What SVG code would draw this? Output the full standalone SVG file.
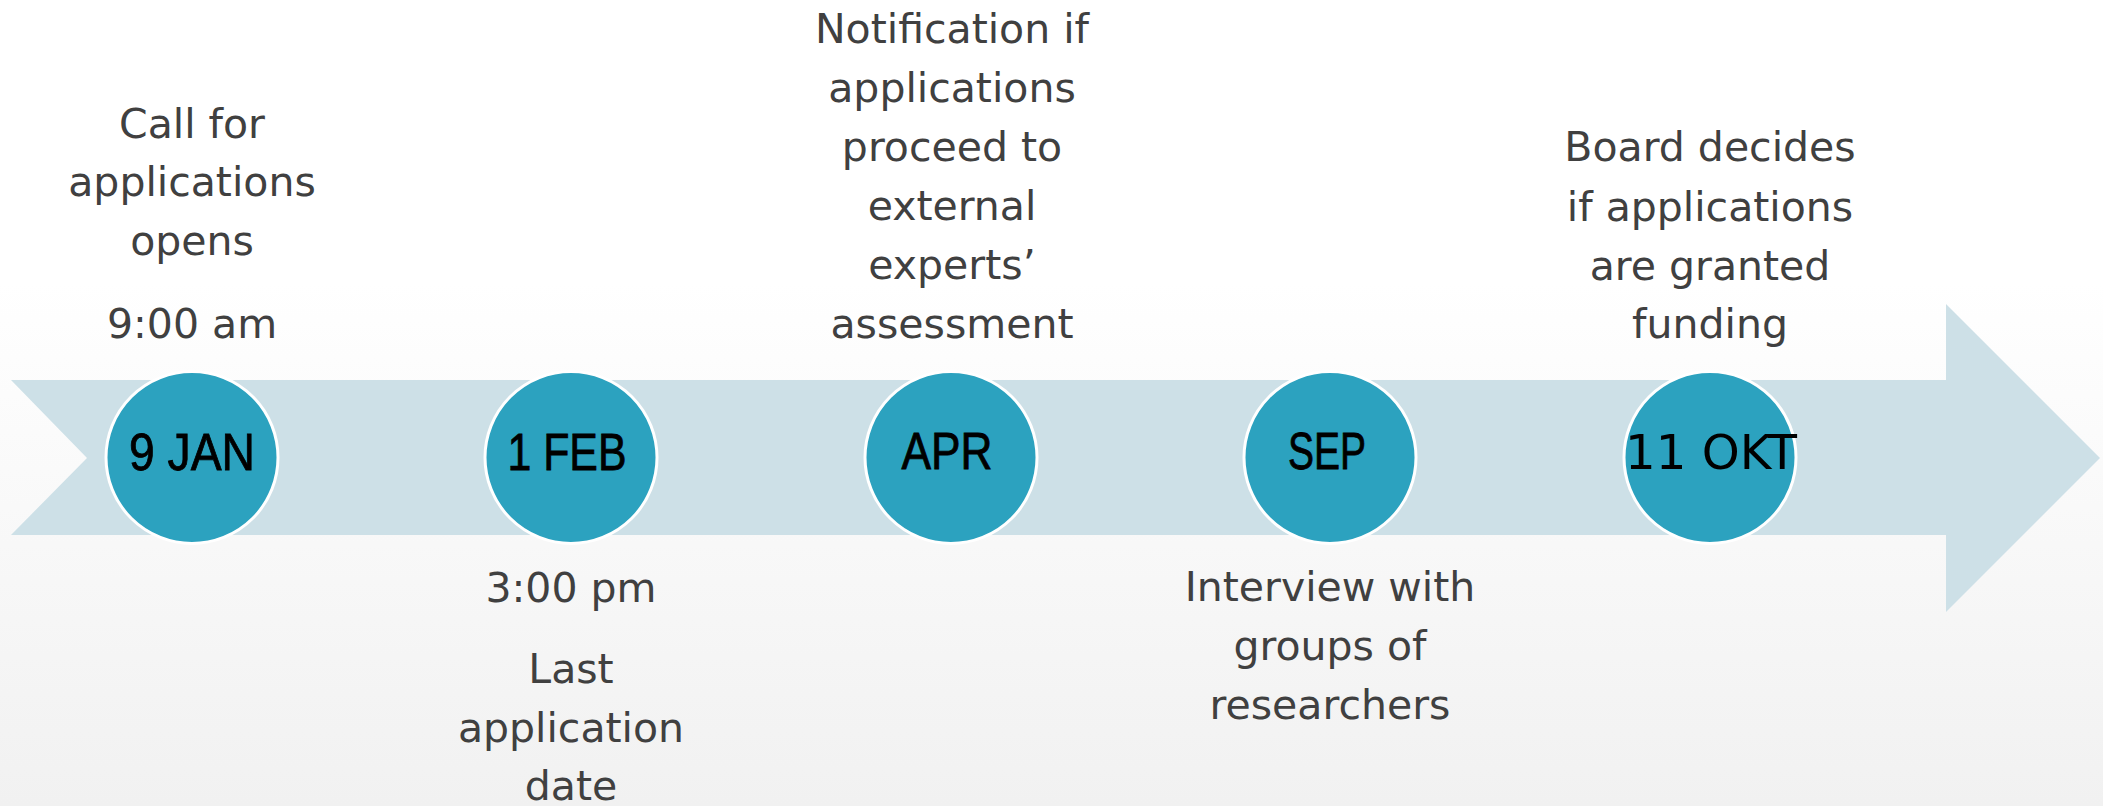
<svg xmlns="http://www.w3.org/2000/svg" width="2103" height="806" viewBox="0 0 2103 806">
  <defs>
    <linearGradient id="bg" x1="0" y1="0" x2="0" y2="1">
      <stop offset="0" stop-color="#FFFFFF"/>
      <stop offset="0.35" stop-color="#FFFFFF"/>
      <stop offset="1" stop-color="#F1F1F1"/>
    </linearGradient>
  </defs>
  <style>
    .lbl { font-family: "DejaVu Sans", "Liberation Sans", sans-serif; font-size: 41px; fill: #404040; text-anchor: middle; }
    .dot { fill: #2CA2BF; stroke: #FFFFFF; stroke-width: 3; }
    .dt { font-family: "Liberation Sans", Arial, sans-serif; font-size: 51px; fill: #000000; stroke: #000000; stroke-width: 0.8; text-anchor: middle; }
    .dt2 { font-family: "DejaVu Sans", sans-serif; font-size: 48px; fill: #000000; text-anchor: middle; }
  </style>
  <rect x="0" y="0" width="2103" height="806" fill="url(#bg)"/>
  <g id="connectors">
    <path d="M11,380 L1946,380 L1946,304 L2100,458 L1946,612 L1946,535 L11,535 L87,458 Z" fill="#CDE0E7"/>
  </g>
  <g id="n-jan">
    <circle class="dot" cx="192" cy="457.5" r="86"/>
    <text class="dt" x="192" y="470" textLength="126" lengthAdjust="spacingAndGlyphs">9 JAN</text>
    <text class="lbl" x="192" y="138">Call for</text>
    <text class="lbl" x="192" y="196">applications</text>
    <text class="lbl" x="192" y="255">opens</text>
    <text class="lbl" x="192" y="338">9:00 am</text>
  </g>
  <g id="n-feb">
    <circle class="dot" cx="571" cy="457.5" r="86"/>
    <text class="dt" x="567" y="470" textLength="119" lengthAdjust="spacingAndGlyphs">1 FEB</text>
    <text class="lbl" x="571" y="602">3:00 pm</text>
    <text class="lbl" x="571" y="683">Last</text>
    <text class="lbl" x="571" y="742">application</text>
    <text class="lbl" x="571" y="800">date</text>
  </g>
  <g id="n-apr">
    <circle class="dot" cx="951" cy="457.5" r="86"/>
    <text class="dt" x="947" y="469" textLength="91" lengthAdjust="spacingAndGlyphs">APR</text>
    <text class="lbl" x="952" y="43">Notification if</text>
    <text class="lbl" x="952" y="102">applications</text>
    <text class="lbl" x="952" y="161">proceed to</text>
    <text class="lbl" x="952" y="220">external</text>
    <text class="lbl" x="952" y="279">experts’</text>
    <text class="lbl" x="952" y="338">assessment</text>
  </g>
  <g id="n-sep">
    <circle class="dot" cx="1330" cy="457.5" r="86"/>
    <text class="dt" x="1327" y="469" textLength="78" lengthAdjust="spacingAndGlyphs">SEP</text>
    <text class="lbl" x="1330" y="601">Interview with</text>
    <text class="lbl" x="1330" y="660">groups of</text>
    <text class="lbl" x="1330" y="719">researchers</text>
  </g>
  <g id="n-okt">
    <circle class="dot" cx="1710" cy="457.5" r="86"/>
    <text class="dt2" x="1711" y="469" textLength="172" lengthAdjust="spacingAndGlyphs">11 OKT</text>
    <text class="lbl" x="1710" y="161">Board decides</text>
    <text class="lbl" x="1710" y="221">if applications</text>
    <text class="lbl" x="1710" y="280">are granted</text>
    <text class="lbl" x="1710" y="338">funding</text>
  </g>
</svg>
